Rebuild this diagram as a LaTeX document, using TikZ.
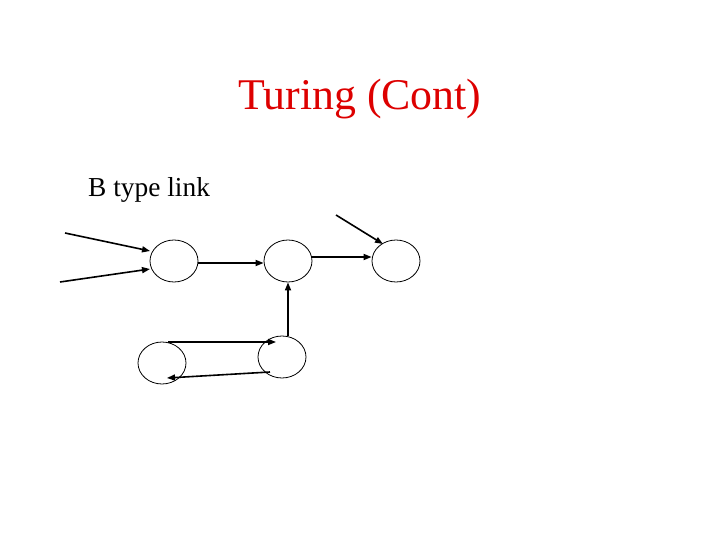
\documentclass[tikz,border=0pt]{standalone}
\usepackage{fontspec}
\setmainfont{Liberation Serif}
\usetikzlibrary{arrows.meta,shapes.geometric}
\definecolor{titlered}{RGB}{221,0,0}
\begin{document}
\begin{tikzpicture}[x=1bp,y=-1bp,
  cell/.style={draw,ellipse,line width=0.8pt,minimum width=48bp,minimum height=42bp,inner sep=0pt},
  link/.style={line width=1.6bp,-{Triangle[length=8bp,width=6bp]}}]
\useasboundingbox (0,0) rectangle (720,540);
\node[anchor=base,text=titlered,font=\fontsize{44}{48}\selectfont] (title) at (360,110) {Turing (Cont)};
\node[anchor=base west,font=\fontsize{27.5}{30}\selectfont,inner sep=0pt] (sub) at (88,197) {B type link};
\node[cell] (n1) at (174,261) {};
\node[cell] (n2) at (288,261) {};
\node[cell] (n3) at (396,261) {};
\node[cell] (n4) at (162,363) {};
\node[cell] (n5) at (282,357) {};
\coordinate (a1) at (65,233);
\coordinate (a2) at (60,282);
\coordinate (a3) at (336,215);
\coordinate (t1) at (150,251);
\coordinate (t2) at (150,269);
\coordinate (t3) at (383,244);
\coordinate (l1) at (168,342);
\coordinate (l2) at (276,342);
\coordinate (l3) at (270,372);
\coordinate (l4) at (167,378);
\draw[link] (a1) -- (t1);
\draw[link] (a2) -- (t2);
\draw[link] (n1.east |- 0,263) -- (n2.west |- 0,263);
\draw[link] (n2.east |- 0,257) -- (n3.west |- 0,257);
\draw[link] (a3) -- (t3);
\draw[link] (n5.north -| n2.south) -- (n2.south);
\draw[link] (l1) -- (l2);
\draw[link] (l3) -- (l4);
\end{tikzpicture}
\end{document}
